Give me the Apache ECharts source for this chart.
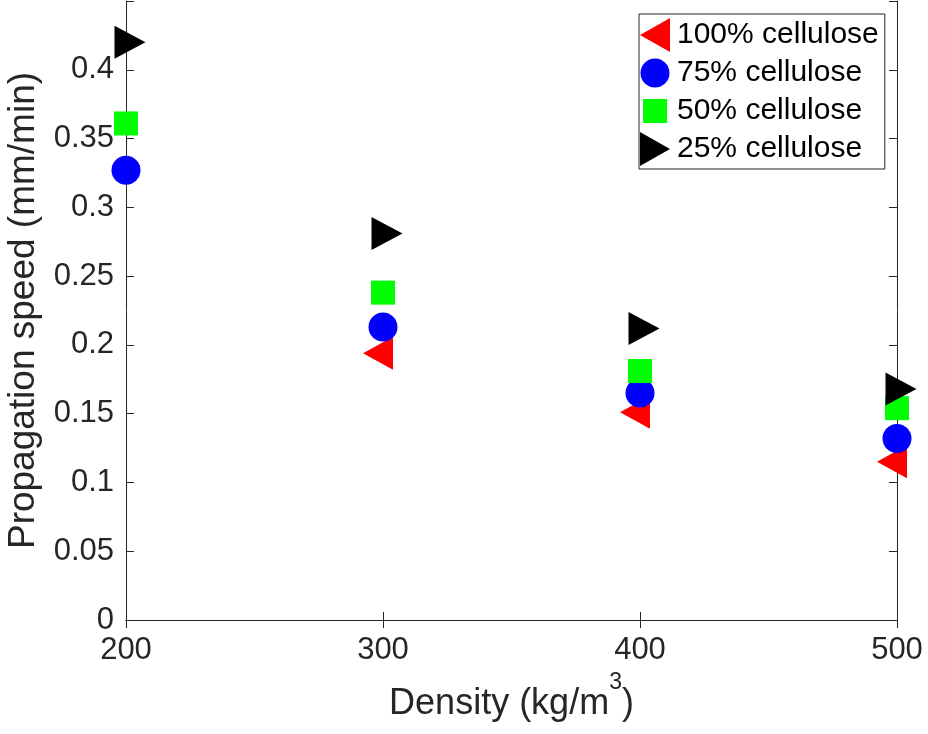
<!DOCTYPE html>
<html>
<head>
<meta charset="utf-8">
<script src="https://cdn.jsdelivr.net/npm/echarts@6/dist/echarts.min.js"></script>
<style>
  html, body { margin: 0; padding: 0; background: #fff; }
  #chart { width: 928px; height: 734px; }
</style>
</head>
<body>
<div id="chart"></div>
<script>
  // densities (kg/m3)
  var densities = [200, 300, 400, 500];
  // propagation speed (mm/min)
  var c100 = [null, 0.194, 0.151, 0.115];
  var c75 = [0.327, 0.213, 0.165, 0.132];
  var c50 = [0.361, 0.238, 0.181, 0.154];
  var c25 = [0.420, 0.281, 0.212, 0.168];
  var yTicks = [0, 0.05, 0.1, 0.15, 0.2, 0.25, 0.3, 0.35, 0.4];

  function pairs(vals) {
    return densities.map(function (d, i) { return [d, vals[i]]; })
      .filter(function (p) { return p[1] !== null; });
  }

  var axisColor = '#262626';
  var font = 'Liberation Sans, Arial, sans-serif';

  // marker shapes (matlab-ish)
  var triLeft = 'path://M0,5 L10,0 L10,10 Z';
  var triRight = 'path://M0,0 L10,5 L0,10 Z';
  // legend icons, padded to a 30x34 box so sizes match the plot
  var icoLeft = 'path://M0,17 L30,0 L30,34 Z';
  var icoRight = 'path://M0,0 L30,17 L0,34 Z';
  var icoCircle = 'path://M0,0 M30,34 M15,2.5 A14.5,14.5 0 1 1 15,31.5 A14.5,14.5 0 1 1 15,2.5 Z';
  var icoSquare = 'path://M0,0 M30,34 M3,5 L27,5 L27,29 L3,29 Z';

  var chart = echarts.init(document.getElementById('chart'));
  chart.setOption({
    animation: false,
    grid: { left: 126, right: 31, top: 1, bottom: 114, outerBoundsMode: 'none', containLabel: false },
    legend: {
      orient: 'vertical',
      left: 639,
      top: 14,
      backgroundColor: '#fff',
      borderColor: axisColor,
      borderWidth: 1,
      borderRadius: 0,
      padding: [4, 6, 3, 1],
      itemGap: 4,
      itemWidth: 30,
      itemHeight: 34,
      textStyle: { fontSize: 30, color: '#000', fontFamily: font, padding: [0, 0, 0, 2] },
      data: [
        { name: '100% cellulose', icon: icoLeft },
        { name: '75% cellulose', icon: icoCircle },
        { name: '50% cellulose', icon: icoSquare },
        { name: '25% cellulose', icon: icoRight }
      ]
    },
    xAxis: [{
      type: 'value',
      min: 200, max: 500, interval: 100,
      name: '{n|Density (kg/m}{sup|3}{n|)}',
      nameLocation: 'middle',
      nameGap: 48,
      nameTextStyle: {
        color: axisColor, fontFamily: font,
        rich: {
          n: { fontSize: 36, color: axisColor, fontFamily: font, verticalAlign: 'bottom' },
          sup: { fontSize: 23, verticalAlign: 'top', padding: [0, 0, 28, 0], color: axisColor, fontFamily: font }
        }
      },
      axisLine: { lineStyle: { color: axisColor, width: 1 } },
      axisTick: { inside: true, length: 8, lineStyle: { color: axisColor } },
      axisLabel: { fontSize: 31, color: axisColor, fontFamily: font, margin: 15 },
      splitLine: { show: false }
    }, {
      type: 'value', position: 'top',
      min: 200, max: 500, interval: 100,
      axisLine: { lineStyle: { color: axisColor, width: 1 } },
      axisTick: { inside: true, length: 8, lineStyle: { color: axisColor } },
      axisLabel: { show: false },
      splitLine: { show: false }
    }],
    yAxis: [{
      type: 'value',
      min: 0, max: 0.45, interval: 0.05,
      name: 'Propagation speed (mm/min)',
      nameLocation: 'middle',
      nameGap: 77,
      nameTextStyle: { fontSize: 37, color: axisColor, fontFamily: font },
      axisLine: { show: true, lineStyle: { color: axisColor, width: 1 } },
      axisTick: { inside: true, length: 8, lineStyle: { color: axisColor } },
      axisLabel: {
        fontSize: 31, color: axisColor, fontFamily: font, margin: 12,
        formatter: function (v) {
          var hit = yTicks.filter(function (t) { return Math.abs(t - v) < 1e-9; });
          return hit.length ? String(hit[0]) : '';
        }
      },
      splitLine: { show: false }
    }, {
      type: 'value', position: 'right',
      min: 0, max: 0.45, interval: 0.05,
      axisLine: { show: true, lineStyle: { color: axisColor, width: 1 } },
      axisTick: { inside: true, length: 8, lineStyle: { color: axisColor } },
      axisLabel: { show: false },
      splitLine: { show: false }
    }],
    series: [{
      name: '100% cellulose',
      type: 'scatter',
      data: pairs(c100),
      symbol: triLeft,
      symbolSize: [30, 33],
      symbolOffset: [-5, 0],
      itemStyle: { color: '#ff0000', opacity: 1 }
    }, {
      name: '75% cellulose',
      type: 'scatter',
      data: pairs(c75),
      symbol: 'circle',
      symbolSize: 29,
      itemStyle: { color: '#0000ff', opacity: 1 }
    }, {
      name: '50% cellulose',
      type: 'scatter',
      data: pairs(c50),
      symbol: 'rect',
      symbolSize: 24,
      itemStyle: { color: '#00ff00', opacity: 1 }
    }, {
      name: '25% cellulose',
      type: 'scatter',
      data: pairs(c25),
      symbol: triRight,
      symbolSize: [31, 33],
      symbolOffset: [4, 0],
      itemStyle: { color: '#000000', opacity: 1 }
    }]
  });
</script>
</body>
</html>
